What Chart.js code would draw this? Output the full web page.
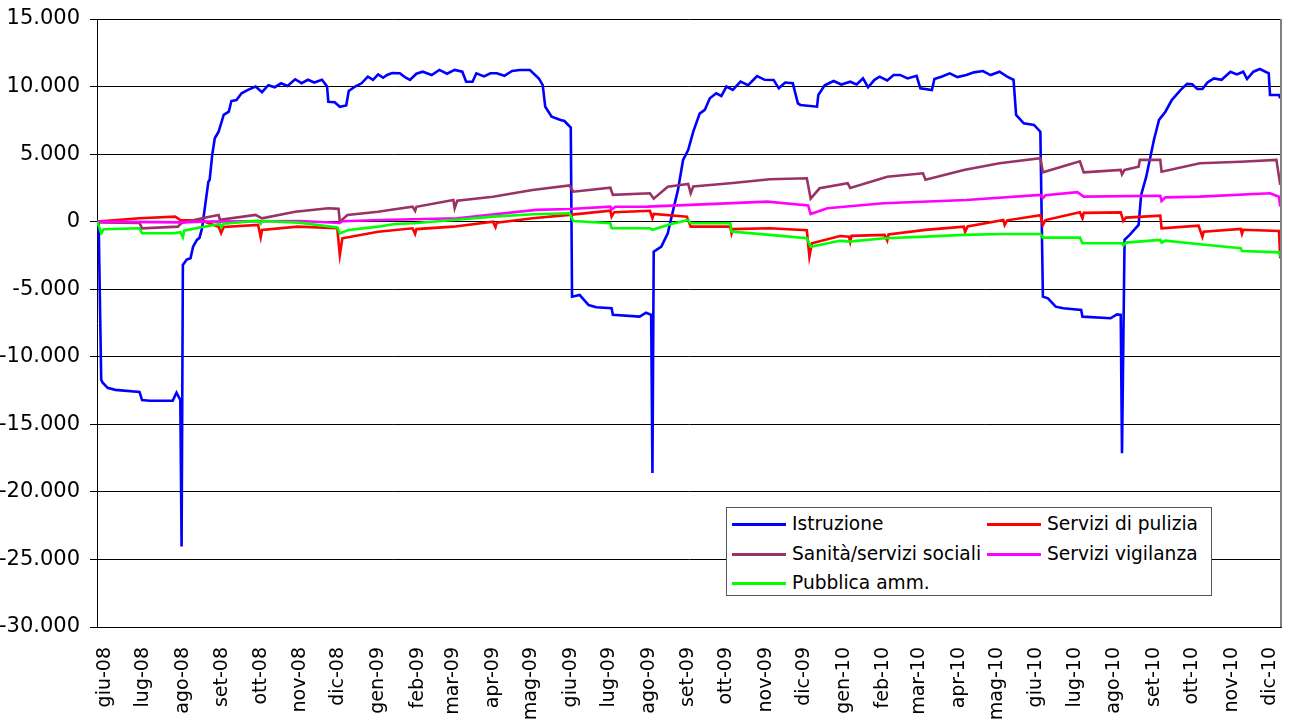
<!DOCTYPE html>
<html>
<head>
<meta charset="utf-8">
<script src="https://cdn.jsdelivr.net/npm/chart.js@4"></script>
<style>
  html, body { margin: 0; padding: 0; background: #fff; }
  #wrap { position: relative; width: 1294px; height: 720px; }
  #legend {
    position: absolute; left: 726px; top: 507px; width: 486px; height: 89px;
    background: #fff; border: 1px solid #555; box-sizing: border-box;
    font-family: "DejaVu Sans", Verdana, sans-serif; font-size: 18.6px; color: #000;
  }
  .item { position: absolute; height: 24px; line-height: 24px; white-space: nowrap; }
  .swatch { position: absolute; top: 11px; width: 54px; height: 3px; }
  .txt { position: absolute; left: 60px; top: 0; }
</style>
</head>
<body>
<div id="wrap">
  <canvas id="c" width="1294" height="720"></canvas>
  <div id="legend"></div>
</div>
<script>
// ---- axis data ----
const monthStartDays = [0,30,61,92,122,153,183,214,245,273,304,334,365,395,426,457,487,518,548,579,610,638,669,699,730,760,791,822,852,883,913];
const monthLabels = ["giu-08","lug-08","ago-08","set-08","ott-08","nov-08","dic-08","gen-09","feb-09","mar-09","apr-09","mag-09","giu-09","lug-09","ago-09","set-09","ott-09","nov-09","dic-09","gen-10","feb-10","mar-10","apr-10","mag-10","giu-10","lug-10","ago-10","set-10","ott-10","nov-10","dic-10"];
const seriesNames = ["Istruzione","Servizi di pulizia","Sanità/servizi sociali","Servizi vigilanza","Pubblica amm."];
const seriesColors = ["#0000FF","#FF0000","#993366","#FF00FF","#00FF00"];

// ---- Istruzione (days since 1 Jun 2008, values) ----
const istruzioneDays = [-6,-5,-3,-2,2,8,27,29,35,53,56,59,60,61,64,67,69,72,74,76,81,82,84,86,89,93,97,99,103,107,112,118,123,128,133,138,143,149,154,159,164,170,174,175,180,184,189,191,196,201,206,210,214,218,221,225,231,235,239,244,249,256,262,268,274,280,283,288,291,297,302,307,313,319,325,333,340,343,345,350,357,360,365,366,372,379,385,397,398,419,424,428,429,430,436,441,444,449,453,457,461,466,470,474,479,483,487,492,498,504,511,517,524,528,533,539,543,545,558,559,564,571,577,584,589,594,598,603,607,613,618,623,629,636,639,648,650,656,662,668,675,681,688,694,701,707,712,714,720,728,733,735,739,745,751,765,766,788,793,796,797,799,803,810,812,816,822,826,831,836,843,848,852,856,860,864,869,875,882,887,892,895,900,905,912,913,920,921];
const istruzioneValues = [0,-100,-11700,-11900,-12300,-12450,-12600,-13200,-13250,-13250,-12650,-13200,-24050,-3200,-2800,-2700,-1850,-1350,-1200,-500,2960,3100,4940,6170,6660,7900,8140,8930,9000,9500,9750,10000,9580,10100,9950,10240,10050,10540,10250,10500,10300,10500,10000,8880,8840,8500,8600,9670,10000,10240,10730,10500,10900,10650,10860,11000,10980,10700,10490,10950,11100,10850,11230,10950,11230,11100,10360,10360,10980,10750,10980,10980,10800,11150,11230,11230,10600,10100,8500,7770,7530,7450,6960,-5550,-5430,-6170,-6340,-6410,-6900,-7030,-6740,-6900,-18600,-2220,-1850,-860,370,2350,4570,5300,6660,8000,8270,9130,9500,9300,10000,9750,10360,10100,10780,10500,10490,9870,10300,10240,8760,8640,8510,9380,10100,10410,10150,10360,10150,10600,9950,10500,10730,10450,10850,10860,10600,10800,9870,9750,10560,10750,10980,10700,10860,11050,11150,10850,11100,10730,10490,7900,7280,7160,6660,-5550,-5670,-6290,-6410,-6540,-7030,-7150,-6860,-6900,-17140,-1350,-980,-240,1980,3330,6050,7530,8140,9000,9750,10200,10170,9820,9820,10300,10600,10500,11100,10900,11100,10560,11100,11300,10980,9380,9380,9130];

// ---- Servizi di pulizia ----
const puliziaDays = [-6,27,55,59,76,89,91,93,120,122,123,151,182,184,186,214,241,243,244,273,304,306,307,335,364,396,397,399,427,429,430,456,459,490,491,492,521,550,552,554,576,583,584,585,611,613,614,643,673,674,676,704,705,707,733,735,737,764,766,767,796,798,800,827,828,857,860,861,890,891,892,920,921];
const puliziaValues = [0,250,370,120,70,-370,-840,-400,-240,-1160,-610,-370,-490,-2470,-1230,-740,-490,-900,-550,-370,0,-400,-80,250,500,810,370,700,810,250,570,370,-370,-370,-860,-550,-490,-640,-2590,-1600,-1060,-1110,-1500,-1050,-980,-1400,-950,-610,-370,-750,-350,120,-250,100,470,-240,120,690,250,650,690,50,300,440,-490,-300,-1110,-740,-540,-900,-600,-690,-2710];

// ---- Sanità/servizi sociali ----
const sanitaDays = [-6,-3,27,29,57,60,76,89,90,118,123,149,175,183,184,190,214,227,241,243,244,273,274,276,304,335,364,367,396,398,427,430,441,457,459,461,490,521,550,553,560,582,584,613,641,643,673,701,733,735,764,767,796,797,799,810,811,827,828,858,890,918,921];
const sanitaValues = [0,-50,-100,-500,-370,-100,250,500,130,500,250,740,990,950,0,500,740,920,1110,800,1100,1600,1000,1550,1850,2350,2680,2220,2520,1980,2100,1700,2590,2790,2100,2600,2840,3140,3210,1700,2470,2840,2500,3330,3580,3100,3830,4320,4690,3650,4470,3650,3830,3500,3830,4070,4570,4570,3700,4320,4440,4570,2720];

// ---- Servizi vigilanza ----
const vigilanzaDays = [-6,60,76,153,184,186,216,276,338,364,396,397,400,425,459,519,551,553,566,610,675,733,735,737,762,767,827,828,831,858,913,920,921];
const vigilanzaValues = [0,-50,0,50,-100,30,120,250,870,940,1110,900,1100,1110,1240,1480,1200,560,990,1360,1600,1980,1750,1950,2180,1850,1920,1530,1800,1850,2100,1850,1110];

// ---- Pubblica amm. ----
const pubblicaDays = [-6,-3,-1,27,29,54,59,61,62,75,90,91,93,120,122,123,152,182,184,191,214,227,242,273,304,336,364,367,396,397,427,429,443,457,459,490,491,521,550,553,576,583,611,643,673,704,733,735,764,766,797,798,800,827,828,831,858,890,891,920,921];
const pubblicaValues = [0,-860,-560,-490,-860,-860,-780,-1160,-670,-420,-170,-400,-150,70,-150,50,-70,-420,-860,-610,-370,-170,-120,120,370,550,620,50,-120,-490,-490,-600,-190,120,-120,-120,-740,-980,-1230,-1850,-1410,-1480,-1230,-1110,-980,-910,-910,-1180,-1180,-1600,-1600,-1750,-1550,-1350,-1550,-1400,-1670,-1970,-2170,-2270,-2590];

const allDays = [istruzioneDays, puliziaDays, sanitaDays, vigilanzaDays, pubblicaDays];
const allValues = [istruzioneValues, puliziaValues, sanitaValues, vigilanzaValues, pubblicaValues];

function fmt(v) {
  const s = Math.abs(v).toString().replace(/\B(?=(\d{3})+(?!\d))/g, ".");
  return (v < 0 ? "-" : "") + s;
}

const datasets = seriesNames.map((name, i) => ({
  label: name,
  data: allDays[i].map((d, k) => ({ x: d, y: allValues[i][k] })),
  borderColor: seriesColors[i],
  backgroundColor: seriesColors[i],
  borderWidth: 2.6,
  pointRadius: 0,
  tension: 0,
  fill: false,
  order: seriesNames.length - i
}));

const rightBorder = {
  id: "rightBorder",
  afterDraw(chart) {
    const { ctx, chartArea } = chart;
    ctx.save();
    ctx.strokeStyle = "#808080";
    ctx.lineWidth = 2;
    ctx.beginPath();
    ctx.moveTo(chartArea.right, chartArea.top);
    ctx.lineTo(chartArea.right, chartArea.bottom);
    ctx.stroke();
    ctx.restore();
  }
};

const FONT = "'DejaVu Sans', Verdana, sans-serif";

new Chart(document.getElementById("c"), {
  type: "line",
  data: { datasets },
  plugins: [rightBorder],
  options: {
    responsive: false,
    animation: false,
    layout: { padding: { top: 19, right: 13, left: 0, bottom: 0 } },
    plugins: { legend: { display: false }, tooltip: { enabled: false } },
    scales: {
      x: {
        type: "linear",
        min: -6.3,
        max: 921.6,
        afterBuildTicks(scale) { scale.ticks = monthStartDays.map(v => ({ value: v })); },
        afterFit(scale) { scale.height = 93; scale.paddingLeft = 0; scale.paddingRight = 0; },
        grid: { display: false, drawTicks: false },
        border: { display: true, color: "#000", width: 1 },
        ticks: {
          autoSkip: false, minRotation: 90, maxRotation: 90, padding: 20,
          color: "#000", font: { family: FONT, size: 19 },
          callback(value, index) { return monthLabels[index]; }
        }
      },
      y: {
        min: -30000, max: 15000,
        afterFit(scale) { scale.width = 97; scale.paddingTop = 0; scale.paddingBottom = 0; },
        grid: { color: "#000", lineWidth: 1, tickLength: 7, drawTicks: true },
        border: { display: true, color: "#000", width: 1 },
        ticks: {
          stepSize: 5000, padding: 10, color: "#000",
          font: { family: FONT, size: 21 },
          callback(value) { return fmt(value); }
        }
      }
    }
  }
});

// ---- HTML legend (row-major, two columns) ----
const legend = document.getElementById("legend");
const pos = [[0,0],[1,0],[0,1],[1,1],[0,2]];
seriesNames.forEach((name, i) => {
  const it = document.createElement("div");
  it.className = "item";
  it.style.left = (pos[i][0] ? 260 : 5) + "px";
  it.style.top = (4 + pos[i][1] * 29.5) + "px";
  const sw = document.createElement("div");
  sw.className = "swatch";
  sw.style.background = seriesColors[i];
  const tx = document.createElement("span");
  tx.className = "txt";
  tx.textContent = name;
  it.appendChild(sw); it.appendChild(tx);
  legend.appendChild(it);
});
</script>
</body>
</html>
